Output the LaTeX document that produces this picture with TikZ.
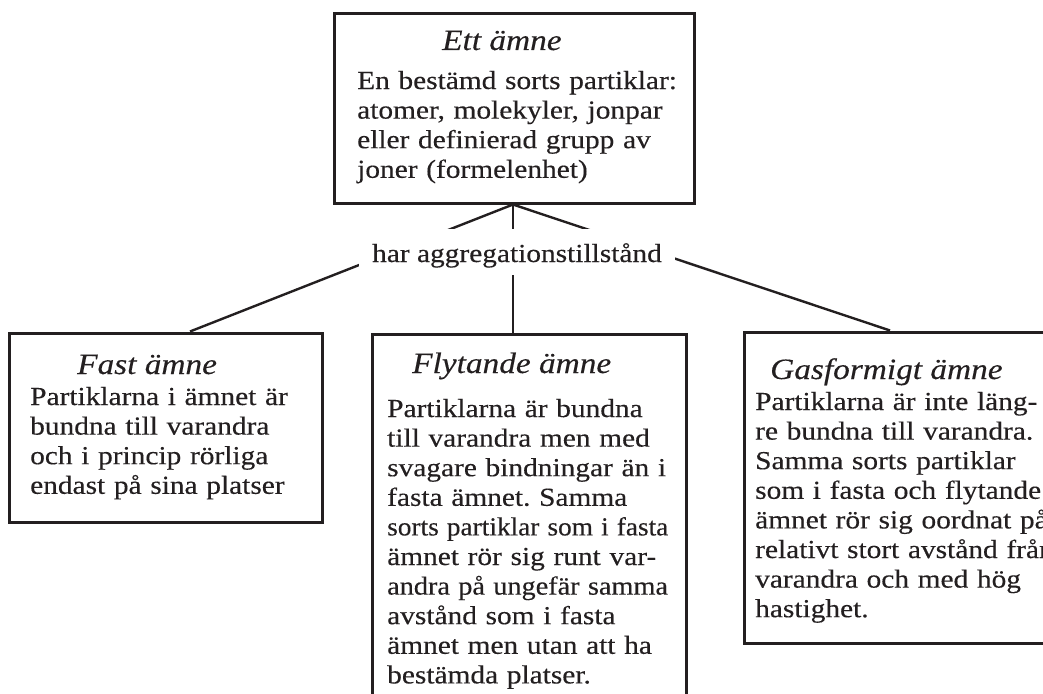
\documentclass[tikz,border=0pt]{standalone}
\usepackage{fontspec}
\setmainfont{Liberation Serif}[FakeStretch=1.13,FakeBold=0.3]
\definecolor{ink}{HTML}{231F20}
\frenchspacing
\begin{document}
\begin{tikzpicture}[x=1pt,y=-1pt,
  box/.style={draw=ink, line width=3pt, inner sep=0pt},
  conn/.style={draw=ink, line width=2.4pt},
  ttl/.style={anchor=base west, inner sep=0pt, text=ink, font=\fontsize{29.5}{34}\selectfont\itshape},
  body/.style={anchor=base west, inner sep=0pt, text=ink, align=left, text width=340pt, font=\fontsize{26}{29.6}\selectfont},
  lbl/.style={fill=white, inner sep=0pt, text=ink, minimum width=316pt, text height=33pt, text depth=13pt, font=\fontsize{26}{29.6}\selectfont}]
\useasboundingbox (0,0) rectangle (1043,693);
\clip (0,0) rectangle (1043,693);
% boxes
\node[box, minimum width=360pt, minimum height=189pt] (ett) at (514,108.5) {};
\node[box, minimum width=313pt, minimum height=189pt] (fast) at (165.5,427.5) {};
\node[box, minimum width=314pt, minimum height=386pt] (fly) at (529,527) {};
\node[box, minimum width=326pt, minimum height=311pt] (gas) at (907,487.5) {};
% titles
\node[ttl] (ettT) at (442,50) {Ett ämne};
\node[ttl] (fastT) at (77,374) {Fast ämne};
\node[ttl] (flyT) at (412,373) {Flytande ämne};
\node[ttl] (gasT) at (770,379) {Gasformigt ämne};
% bodies
\node[body] (ettB) at (357,89) {En bestämd sorts partiklar:\\atomer, molekyler, jonpar\\eller definierad grupp av\\joner (formelenhet)};
\node[body] (fastB) at (30,405) {Partiklarna i ämnet är\\bundna till varandra\\och i princip rörliga\\endast på sina platser};
\node[body] (flyB) at (387,417) {Partiklarna är bundna\\till varandra men med\\svagare bindningar än i\\fasta ämnet. Samma\\\scalebox{0.93}[1]{sorts partiklar som i fasta}\\ämnet rör sig runt var-\\\scalebox{0.962}[1]{andra på ungefär samma}\\avstånd som i fasta\\ämnet men utan att ha\\bestämda platser.};
\node[body] (gasB) at (755,410) {Partiklarna är inte läng-\\re bundna till varandra.\\Samma sorts partiklar\\som i fasta och flytande\\ämnet rör sig oordnat på\\relativt stort avstånd från\\varandra och med hög\\hastighet.};
% connectors
\draw[conn] ([xshift=-1pt]ett.south) -- ([xshift=24.5pt]fast.north);
\draw[conn] ([xshift=-1pt]ett.south) -- ([xshift=-16pt]fly.north);
\draw[conn] ([xshift=-1pt]ett.south) -- ([xshift=-17pt]gas.north);
% label over connectors
\node[lbl] (har) at (517,252) {har aggregationstillstånd};
\end{tikzpicture}
\end{document}
